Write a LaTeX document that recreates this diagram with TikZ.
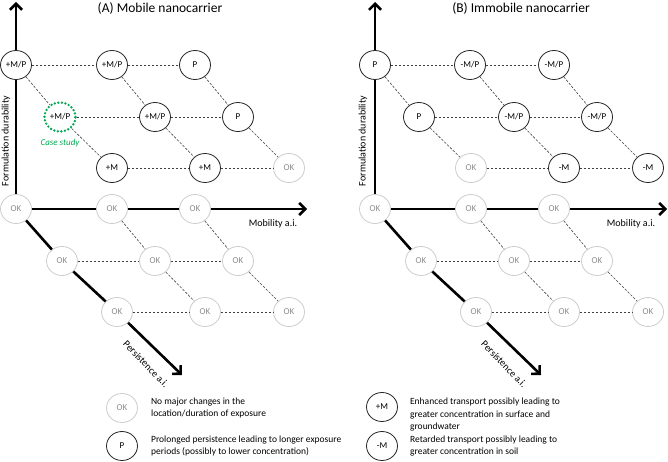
\documentclass[tikz,border=0pt]{standalone}
\usepackage{fontspec}
\setmainfont{Carlito}
\usetikzlibrary{shapes.geometric,arrows.meta,positioning}

\definecolor{casegreen}{RGB}{0,166,81}
\definecolor{okgray}{RGB}{205,205,205}

\tikzset{
  state/.style={ellipse, draw=black!85, line width=0.8pt, fill=white,
    minimum width=31pt, minimum height=29pt, inner sep=0pt,
    font=\fontsize{9}{10}\selectfont},
  okstate/.style={state, draw=okgray, text=black!45},
  casestate/.style={state, draw=casegreen, line width=2.6pt, line cap=round,
    dash pattern=on 0pt off 3.6pt},
  link/.style={black!75, line width=0.6pt, dash pattern=on 2.5pt off 1.5pt},
  axis/.style={line width=2.6pt},
  axisarrow/.style={axis, -{Straight Barb[length=6pt, width=12pt]}},
  titletext/.style={font=\fontsize{13.5}{16}\selectfont},
  axistext/.style={font=\fontsize{10}{12}\selectfont},
  casetext/.style={font=\fontsize{9}{11}\selectfont\itshape, text=casegreen, inner sep=0pt},
  legtext/.style={font=\fontsize{9.5}{12.5}\selectfont, align=left, inner sep=0pt}
}

\begin{document}
\begin{tikzpicture}[x=1pt, y=1pt]
    \useasboundingbox (0,0) rectangle (668,-462);

    % (A) Mobile nanocarrier
    \node[titletext] (atitle) at (160,-9) {(A) Mobile nanocarrier};

    % high formulation durability
    \node[state] (a11) at (16,-65) {+M/P};
    \node[state] (a12) at (112,-65) {+M/P};
    \node[state] (a13) at (195,-65) {P};
    \node[casestate] (a21) at (60,-117) {+M/P};
    \node[state] (a22) at (155,-117) {+M/P};
    \node[state] (a23) at (238,-117) {P};
    \node[state] (a31) at (112,-168) {+M};
    \node[state] (a32) at (205,-168) {+M};
    \node[okstate] (a33) at (289,-168) {OK};
    \node[casetext, below=6pt of a21] (acase) {Case study};

    % low formulation durability
    \node[okstate] (a41) at (16,-209) {OK};
    \node[okstate] (a42) at (112,-209) {OK};
    \node[okstate] (a43) at (195,-209) {OK};
    \node[okstate] (a51) at (62,-261) {OK};
    \node[okstate] (a52) at (155,-261) {OK};
    \node[okstate] (a53) at (238,-261) {OK};
    \node[okstate] (a61) at (117,-312) {OK};
    \node[okstate] (a62) at (205,-312) {OK};
    \node[okstate] (a63) at (289,-312) {OK};

    % Axes
    \coordinate (atop) at (16,-2);
    \coordinate (amob) at (307,-209);
    \coordinate (apers) at (182,-375);
    \draw[axis] (a41) -- (a11);
    \draw[axisarrow] (a11) -- (atop);
    \draw[axis] (a41) -- (a42) (a42) -- (a43);
    \draw[axisarrow] (a43) -- (amob);
    \draw[axis] (a41) -- (a51) (a51) -- (a61);
    \draw[axisarrow] (a61) -- (apers);
    \node[axistext, rotate=90] (adur) at (6,-141) {Formulation durability};
    \node[axistext] (amoblbl) at (273,-224) {Mobility a.i.};
    \node[axistext, rotate=-46, inner sep=0pt] (aperslbl) at (146,-364) {Persistence a.i.};

    % Dashed links
    \draw[link] (a11) -- (a12) (a12) -- (a13) (a21) -- (a22) (a22) -- (a23)
                (a31) -- (a32) (a32) -- (a33);
    \draw[link] (a11) -- (a21) (a21) -- (a31) (a12) -- (a22) (a22) -- (a32)
                (a13) -- (a23) (a23) -- (a33);
    \draw[link] (a51) -- (a52) (a52) -- (a53) (a61) -- (a62) (a62) -- (a63);
    \draw[link] (a42) -- (a52) (a52) -- (a62) (a43) -- (a53) (a53) -- (a63);

    % (B) Immobile nanocarrier
    \begin{scope}[xshift=359pt]
    \node[titletext] (btitle) at (162,-9) {(B) Immobile nanocarrier};

    % high formulation durability
    \node[state] (b11) at (16,-65) {P};
    \node[state] (b12) at (111,-65) {-M/P};
    \node[state] (b13) at (195,-65) {-M/P};
    \node[state] (b21) at (60,-117) {P};
    \node[state] (b22) at (155,-117) {-M/P};
    \node[state] (b23) at (238,-117) {-M/P};
    \node[okstate] (b31) at (112,-168) {OK};
    \node[state] (b32) at (205,-168) {-M};
    \node[state] (b33) at (289,-168) {-M};

    % low formulation durability
    \node[okstate] (b41) at (16,-209) {OK};
    \node[okstate] (b42) at (112,-209) {OK};
    \node[okstate] (b43) at (195,-209) {OK};
    \node[okstate] (b51) at (62,-261) {OK};
    \node[okstate] (b52) at (155,-261) {OK};
    \node[okstate] (b53) at (238,-261) {OK};
    \node[okstate] (b61) at (117,-312) {OK};
    \node[okstate] (b62) at (205,-312) {OK};
    \node[okstate] (b63) at (289,-312) {OK};

    % Axes
    \coordinate (btop) at (16,-2);
    \coordinate (bmob) at (308,-209);
    \coordinate (bpers) at (182,-375);
    \draw[axis] (b41) -- (b11);
    \draw[axisarrow] (b11) -- (btop);
    \draw[axis] (b41) -- (b42) (b42) -- (b43);
    \draw[axisarrow] (b43) -- (bmob);
    \draw[axis] (b41) -- (b51) (b51) -- (b61);
    \draw[axisarrow] (b61) -- (bpers);
    \node[axistext, rotate=90] (bdur) at (4,-141) {Formulation durability};
    \node[axistext] (bmoblbl) at (272,-224) {Mobility a.i.};
    \node[axistext, rotate=-46, inner sep=0pt] (bperslbl) at (145,-364) {Persistence a.i.};

    % Dashed links
    \draw[link] (b11) -- (b12) (b12) -- (b13) (b21) -- (b22) (b22) -- (b23)
                (b31) -- (b32) (b32) -- (b33);
    \draw[link] (b11) -- (b21) (b21) -- (b31) (b12) -- (b22) (b22) -- (b32)
                (b13) -- (b23) (b23) -- (b33);
    \draw[link] (b51) -- (b52) (b52) -- (b53) (b61) -- (b62) (b62) -- (b63);
    \draw[link] (b42) -- (b52) (b52) -- (b62) (b43) -- (b53) (b53) -- (b63);
    \end{scope}

    % Legend
    \node[okstate] (legok) at (122,-408) {OK};
    \node[state] (legp) at (122,-446) {P};
    \node[state] (legpm) at (382,-407) {+M};
    \node[state] (legmm) at (382,-446) {-M};
    \node[legtext, right=13pt of legok] (legoktext)
        {No major changes in the\\location/duration of exposure};
    \node[legtext, right=13pt of legp] (legptext)
        {Prolonged persistence leading to longer exposure\\periods (possibly to lower concentration)};
    \node[legtext, right=12pt of legpm, yshift=-8pt] (legpmtext)
        {Enhanced transport  possibly leading to\\greater concentration  in surface and\\groundwater};
    \node[legtext, right=12pt of legmm] (legmmtext)
        {Retarded transport possibly leading to\\greater concentration  in soil};
\end{tikzpicture}
\end{document}
